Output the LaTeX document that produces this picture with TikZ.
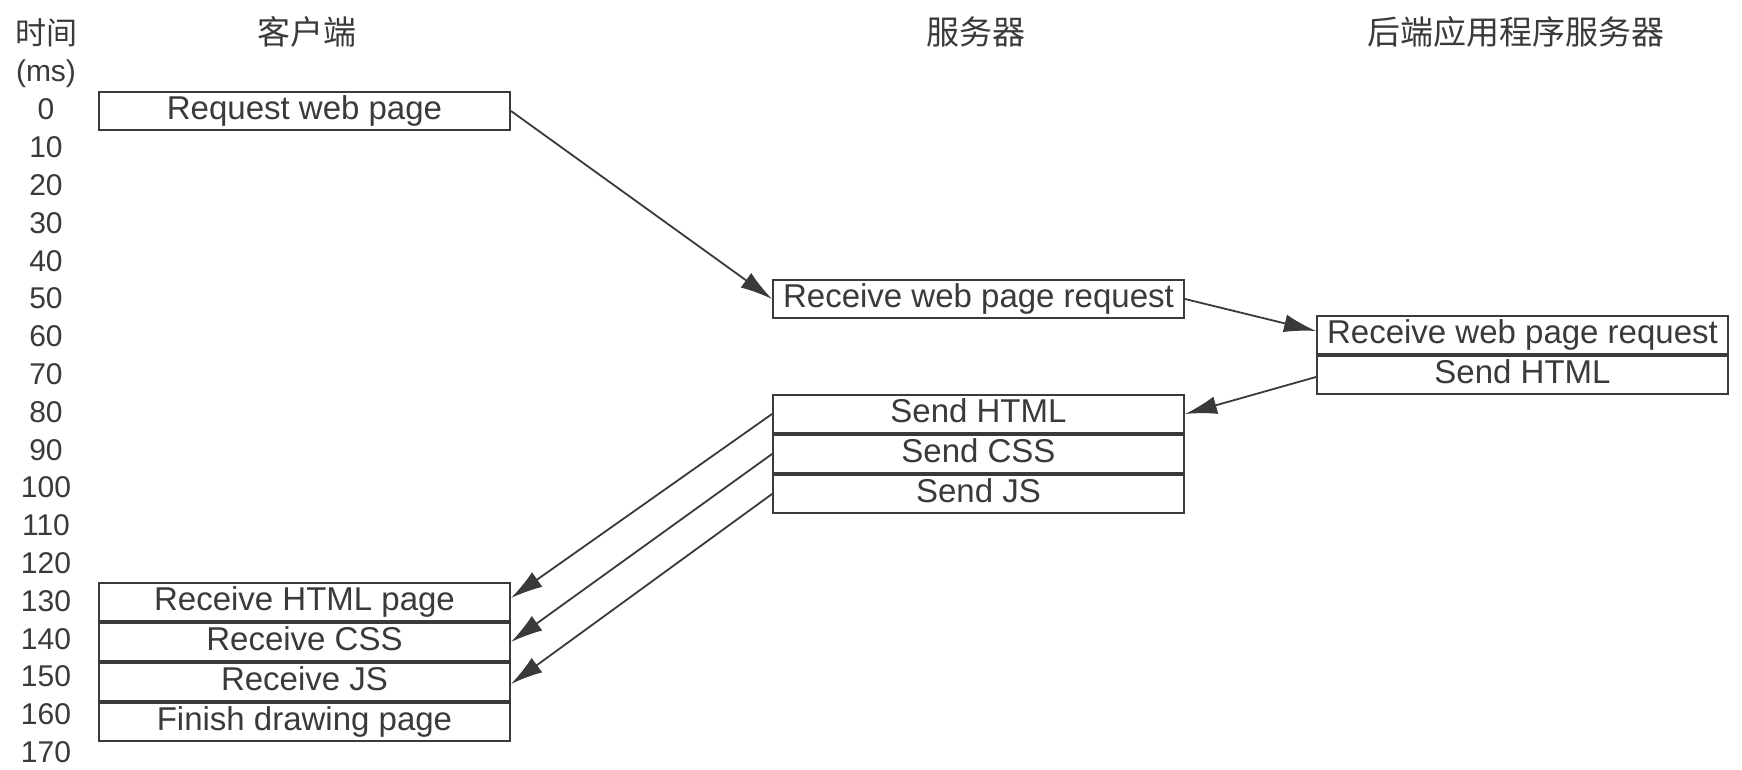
\documentclass[tikz,border=0pt]{standalone}
\usepackage{fontspec}
\setmainfont{Liberation Sans}
\newfontfamily\cjk{Noto Sans CJK SC}
\usetikzlibrary{arrows.meta}
\definecolor{ink}{HTML}{3A3A3A}
\begin{document}
\begin{tikzpicture}[x=1pt,y=-1pt,
  cell/.style={draw=ink, line width=2pt, minimum width=411pt, minimum height=38pt,
    inner sep=0pt, text=ink, font=\fontsize{33}{38}\selectfont,
    text height=24pt, text depth=7pt, anchor=north west},
  below/.style={anchor=north},
  tlab/.style={text=ink, font=\fontsize{30}{34}\selectfont, inner sep=0pt},
  head/.style={text=ink, font=\cjk\fontsize{33}{36}\selectfont, inner sep=0pt},
  msg/.style={draw=ink, line width=1.8pt, -{Latex[length=32pt,width=18pt]}},
]
\useasboundingbox[fill=white] (0,0) rectangle (1742,770);

% headers
\node[head,font=\cjk\fontsize{31}{34}\selectfont] (hTime) at (46,33) {时间};
\node[tlab] (hms) at (46,74) {(ms)};
\node[head] (hClient) at (307,32) {客户端};
\node[head] (hServer) at (976,32) {服务器};
\node[head] (hBack) at (1516,32) {后端应用程序服务器};

% time axis
\foreach \t in {0,10,...,170}{
  \node[tlab] (t\t) at (46,{109.5+3.78*\t}) {\t};
}

% client
\node[cell] (req) at (98,91) {Request web page};
\node[cell] (chtml) at (98,582) {Receive HTML page};
\node[cell,below] (ccss) at (chtml.south) {Receive CSS};
\node[cell,below] (cjs) at (ccss.south) {Receive JS};
\node[cell,below] (cfin) at (cjs.south) {Finish drawing page};

% server
\node[cell] (srecv) at (772,279) {Receive web page request};
\node[cell] (shtml) at (772,394) {Send HTML};
\node[cell,below] (scss) at (shtml.south) {Send CSS};
\node[cell,below] (sjs) at (scss.south) {Send JS};

% backend
\node[cell] (brecv) at (1316,315) {Receive web page request};
\node[cell,below] (bsend) at (brecv.south) {Send HTML};

% messages
\draw[msg] (req.east) -- (srecv.west);
\draw[msg] (srecv.east) -- ([yshift=4pt]brecv.west);
\draw[msg] ([yshift=-2pt]bsend.west) -- (shtml.east);
\draw[msg] (shtml.west) -- ([yshift=4pt]chtml.east);
\draw[msg] (scss.west) -- (ccss.east);
\draw[msg] (sjs.west) -- ([yshift=-2pt]cjs.east);
\end{tikzpicture}
\end{document}
